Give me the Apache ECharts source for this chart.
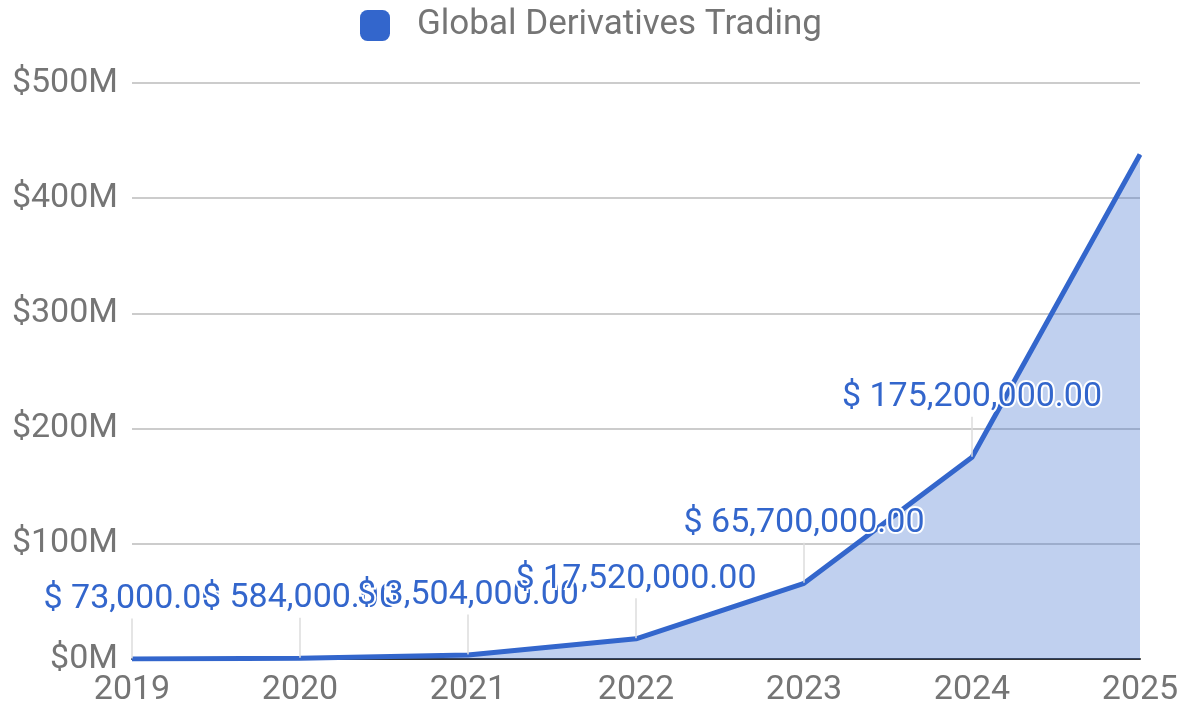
<!DOCTYPE html>
<html>
<head>
<meta charset="utf-8">
<script src="https://cdn.jsdelivr.net/npm/echarts@6/dist/echarts.min.js"></script>
<style>
html,body{margin:0;padding:0;background:#fff;}
#chart{width:1189px;height:719px;}
</style>
</head>
<body>
<div id="chart"></div>
<script>
const years = ['2019', '2020', '2021', '2022', '2023', '2024', '2025'];
const tradingValues = [73000, 584000, 3504000, 17520000, 65700000, 175200000, 438000000];
const seriesName = 'Global Derivatives Trading';

const chart = echarts.init(document.getElementById('chart'));
const fmt = v => '$ ' + v.toLocaleString('en-US', {minimumFractionDigits: 2, maximumFractionDigits: 2});
const data = tradingValues.map((v, i) => i === tradingValues.length - 1
  ? {value: v, label: {show: false}, labelLine: {show: false}}
  : v);

chart.setOption({
  animation: false,
  textStyle: {fontFamily: 'Roboto'},
  legend: {
    top: 3,
    left: 355,
    icon: 'roundRect',
    itemWidth: 30,
    itemHeight: 31,
    itemGap: 10,
    itemStyle: {color: '#3366CC'},
    textStyle: {fontSize: 35, color: '#757575', fontFamily: 'Roboto', padding: [0, 0, 0, 22]},
    data: [seriesName]
  },
  grid: {left: 132, right: 49, top: 83, bottom: 60, containLabel: false},
  xAxis: {
    type: 'category',
    data: years,
    boundaryGap: false,
    axisLine: {show: true, lineStyle: {color: '#333', width: 2}},
    axisTick: {show: false},
    splitLine: {show: false},
    axisLabel: {fontSize: 34, color: '#757575', margin: 14, fontFamily: 'Roboto'}
  },
  yAxis: {
    type: 'value',
    min: 0,
    max: 500000000,
    interval: 100000000,
    axisLine: {show: false},
    axisTick: {show: false},
    splitLine: {lineStyle: {color: '#cccccc', width: 2}},
    axisLabel: {
      fontSize: 34, color: '#757575', margin: 14, fontFamily: 'Roboto',
      formatter: v => '$' + (v / 1e6) + 'M'
    }
  },
  series: [{
    name: seriesName,
    type: 'line',
    data: data,
    symbol: 'circle',
    symbolSize: 1,
    showSymbol: true,
    itemStyle: {color: '#3366CC'},
    lineStyle: {color: '#3366CC', width: 5},
    areaStyle: {color: '#3366CC', opacity: 0.31},
    z: 3,
    label: {
      show: true,
      position: 'top',
      distance: 5,
      formatter: p => fmt(p.value),
      fontSize: 34,
      color: '#3366CC',
      fontFamily: 'Roboto',
      textBorderColor: '#ffffff',
      textBorderWidth: 4
    },
    labelLayout: {dy: -37},
    labelLine: {show: true, lineStyle: {color: '#dddddd', width: 1.5}}
  }]
});
</script>
</body>
</html>
